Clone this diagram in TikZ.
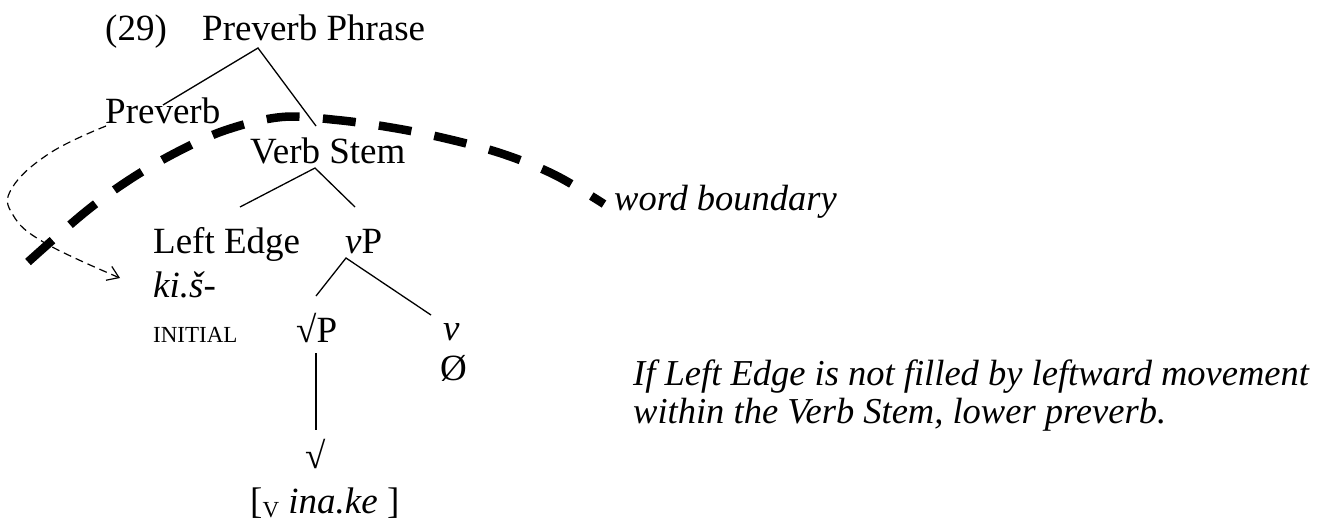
\documentclass[tikz,border=0pt]{standalone}
\usepackage{fontspec}
\setmainfont{Liberation Serif}
\usetikzlibrary{arrows.meta,calc}
\begin{document}
\begin{tikzpicture}[x=1pt,y=-1pt,
  lab/.style={anchor=base west,inner sep=0pt,font=\fontsize{37}{44}\selectfont},
  note/.style={anchor=base west,inner sep=0pt,font=\fontsize{36.5}{40}\selectfont\itshape},
  small/.style={anchor=base west,inner sep=0pt,font=\fontsize{23}{26}\selectfont},
  branch/.style={line width=1.3pt},
  boundary/.style={line width=8.5pt,dash pattern=on 33pt off 23.4pt,dash phase=18pt},
  move/.style={line width=1.2pt,dash pattern=on 8pt off 5pt,-{Straight Barb[length=11pt,width=15pt,line width=1.2pt]}}]
\useasboundingbox (0,0) rectangle (1328,525);
% nodes
\node[lab] (num) at (105,40) {(29)};
\node[lab] (pp) at (202,40) {Preverb Phrase};
\node[lab] (pv) at (105,123) {Preverb};
\node[lab] (vs) at (250,163) {Verb Stem};
\node[lab] (le) at (153,253) {Left Edge};
\node[lab] (vP) at (345,253) {\textit{v}P};
\node[lab] (kis) at (153,297) {\textit{ki.š-}};
\node[small] (ini) at (153,342) {INITIAL};
\node[lab] (rP) at (296,342) {√P};
\node[lab] (vh) at (443,340) {\textit{v}};
\node[lab] (nul) at (440,380) {Ø};
\node[lab] (rt) at (305,468) {√};
\node[lab] (ina) at (250,513) {[\raisebox{-4pt}{\fontsize{23}{26}\selectfont V} \textit{ina.ke} ]};
\node[note] (wb) at (614,210) {word boundary};
\node[note] (n1) at (633,385) {If Left Edge is not filled by leftward movement};
\node[note] (n2) at (633,423) {within the Verb Stem, lower preverb.};
% branch points
\coordinate (ppA) at (258,48);
\coordinate (pvT) at (163,105);
\coordinate (vsT) at (316,126);
\coordinate (vsA) at (315,168);
\coordinate (leT) at (240,207);
\coordinate (vPT) at (355,207);
\coordinate (vPA) at (346,258);
\coordinate (rPT) at (316,296);
\coordinate (vhT) at (431,315);
\coordinate (rPB) at (316,353);
\coordinate (rtT) at (316,430);
\draw[branch] (pvT) -- (ppA) -- (vsT);
\draw[branch] (leT) -- (vsA) -- (vPT);
\draw[branch] (rPT) -- (vPA) -- (vhT);
\draw[branch] (rPB) -- (rtT);
% word boundary (drawn from the label end back to the left)
\coordinate (wbS) at (28,262);
\coordinate (wbE) at (604,204);
\draw[boundary] plot[smooth,tension=0.6] coordinates {(wbE) (555,175) (503,154) (448,139) (394,128) (337,120) (282,117) (226,130) (177,152) (129,180) (84,213) (wbS)};
% lowering arrow
\coordinate (mvS) at (106,126);
\coordinate (mvE) at (120,278);
\draw[move] plot[smooth,tension=0.7] coordinates {(mvS) (50,153) (12,188) (13,215) (45,243) (mvE)};
\end{tikzpicture}
\end{document}
